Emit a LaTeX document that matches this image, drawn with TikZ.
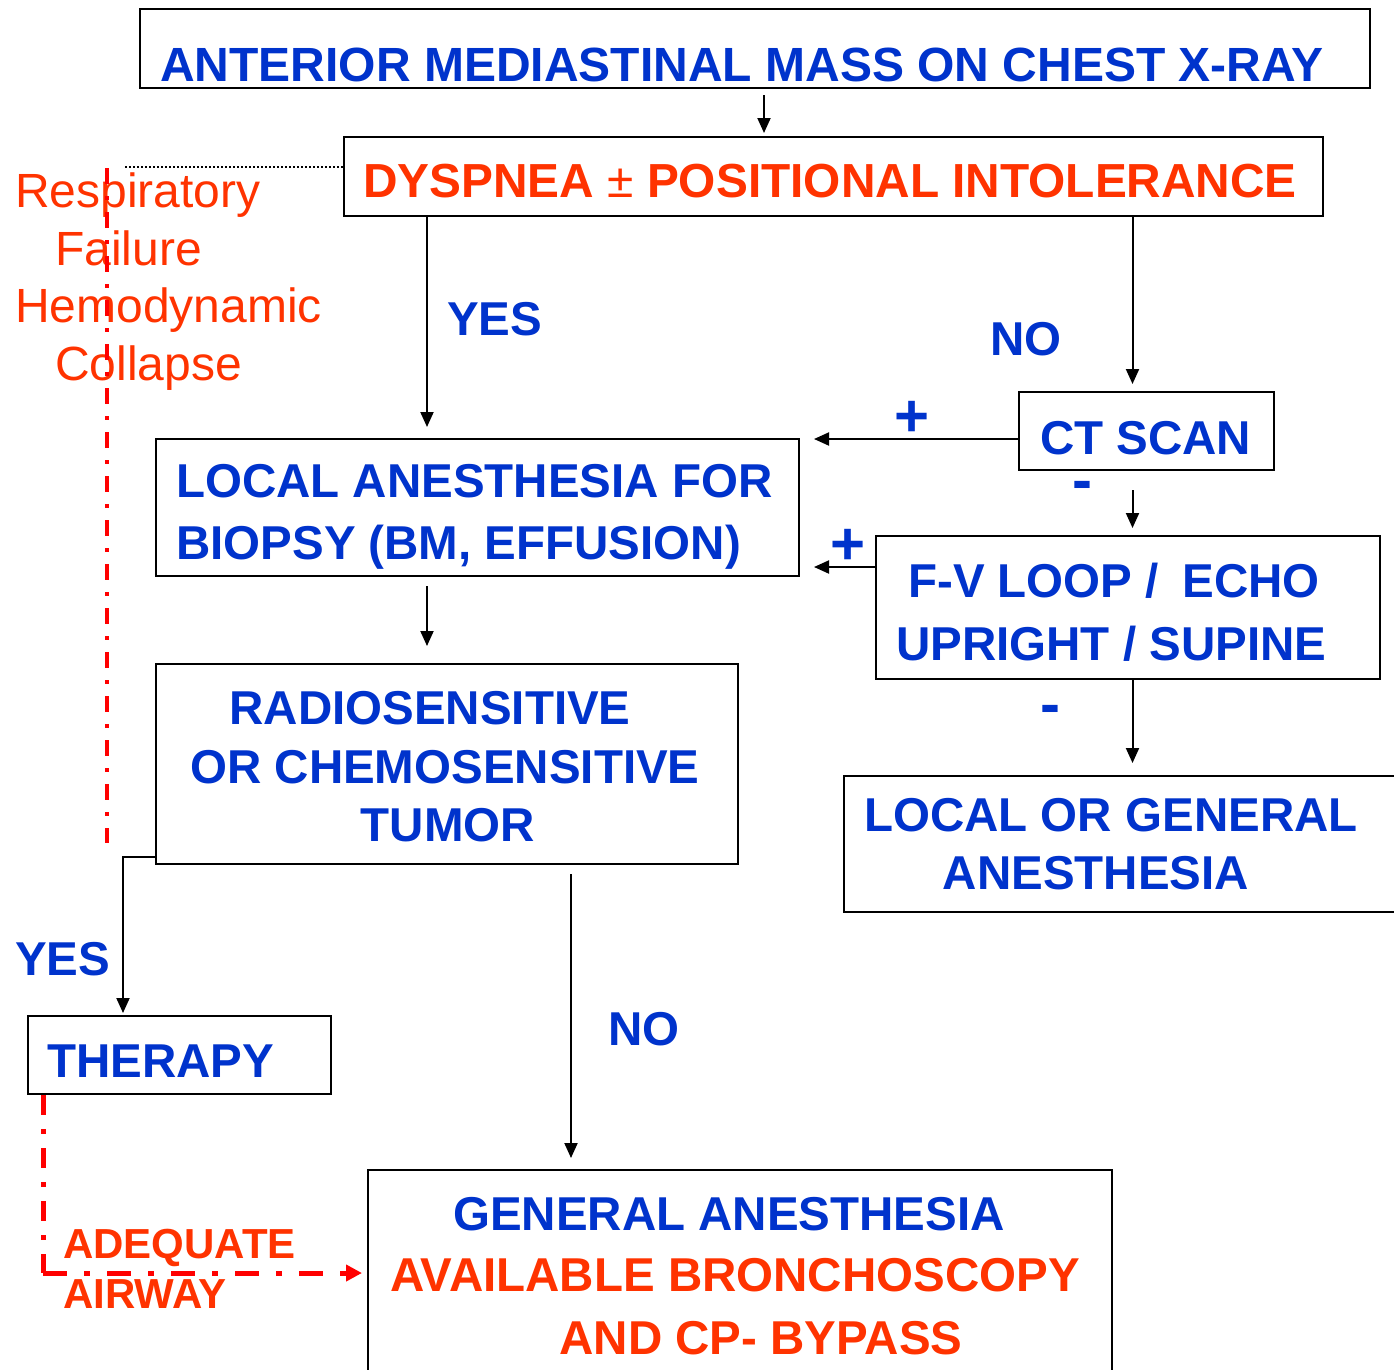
\documentclass[tikz,border=0pt]{standalone}
\usepackage{fontspec}
\setmainfont{Liberation Sans}
\usetikzlibrary{arrows.meta,calc}
\definecolor{tblue}{HTML}{0033CC}
\definecolor{tred}{HTML}{FF3300}
\definecolor{dred}{HTML}{FF0000}
\begin{document}
\begin{tikzpicture}[x=1pt,y=-1pt,
  box/.style={draw=black,line width=2pt,inner sep=0pt,anchor=north west},
  bt/.style={font=\fontsize{47.5}{56}\selectfont\bfseries,text=tblue,inner sep=0pt,anchor=base west},
  rt/.style={font=\fontsize{47.5}{56}\selectfont\bfseries,text=tred,inner sep=0pt,anchor=base west},
  lt/.style={font=\fontsize{48}{56}\selectfont,text=tred,inner sep=0pt,anchor=base west},
  airt/.style={font=\fontsize{42}{50}\selectfont\bfseries,text=tred,inner sep=0pt,anchor=base west},
  sgn/.style={font=\fontsize{60}{66}\selectfont\bfseries,text=tblue,inner sep=0pt,anchor=base},
  arr/.style={draw=black,line width=2pt,-{Triangle[length=15pt,width=13pt]}},
  ddot/.style={draw=dred,line width=4.5pt,dash pattern=on 16pt off 12pt on 4pt off 12pt},
  ddotb/.style={draw=dred,line width=5pt,dash pattern=on 24pt off 17pt on 6pt off 17pt},
  ddotv/.style={draw=dred,line width=5pt,dash pattern=on 20pt off 14pt on 5pt off 14pt}
]
\useasboundingbox[fill=white] (0,0) rectangle (1394,1369);
\clip (0,0) rectangle (1394,1369);

% boxes
\node[box,minimum width=1230pt,minimum height=79pt] (top) at (139,8) {};
\node[box,minimum width=979pt,minimum height=79pt] (dys) at (343,136) {};
\node[box,minimum width=643pt,minimum height=137pt] (loc) at (155,438) {};
\node[box,minimum width=255pt,minimum height=78pt] (ct) at (1018,391) {};
\node[box,minimum width=504pt,minimum height=143pt] (fv) at (875,535) {};
\node[box,minimum width=582pt,minimum height=200pt] (rad) at (155,663) {};
\node[box,minimum width=580pt,minimum height=136pt] (lg) at (843,775) {};
\node[box,minimum width=303pt,minimum height=78pt] (ther) at (27,1015) {};
\node[box,minimum width=744pt,minimum height=240pt] (ga) at (367,1169) {};

% texts
\node[bt,font=\fontsize{48}{56}\selectfont\bfseries] (t1) at (160,81) {ANTERIOR MEDIASTINAL MASS ON CHEST X-RAY};
\node[rt,font=\fontsize{47.8}{56}\selectfont\bfseries] (t2) at (363,197) {DYSPNEA \textmd{±} POSITIONAL INTOLERANCE};
\node[bt] (t3a) at (176,497) {LOCAL ANESTHESIA FOR};
\node[bt] (t3b) at (176,559) {BIOPSY (BM, EFFUSION)};
\node[bt] (t4) at (1040,454) {CT SCAN};
\node[bt] (t5a) at (908,597) {F-V LOOP /\hspace{0.5em}ECHO};
\node[bt] (t5b) at (896,660) {UPRIGHT / SUPINE};
\node[bt,anchor=base] (t6a) at (430,724) {RADIOSENSITIVE};
\node[bt,anchor=base] (t6b) at (445,783) {OR CHEMOSENSITIVE};
\node[bt,anchor=base] (t6c) at (448,841) {TUMOR};
\node[bt] (t7a) at (864,831) {LOCAL OR GENERAL};
\node[bt,anchor=base] (t7b) at (1096,889) {ANESTHESIA};
\node[bt] (t8) at (47,1077) {THERAPY};
\node[bt,anchor=base] (t9a) at (729,1230) {GENERAL ANESTHESIA};
\node[rt,anchor=base] (t9b) at (735,1291) {AVAILABLE BRONCHOSCOPY};
\node[rt,anchor=base] (t9c) at (761,1354) {AND CP- BYPASS};

% labels
\node[bt] (yes1) at (447,335) {YES};
\node[bt] (no1) at (990,355) {NO};
\node[sgn] (plus1) at (912,436) {+};
\node[sgn] (min1) at (1082,500) {-};
\node[sgn] (plus2) at (848,564) {+};
\node[sgn] (min2) at (1050,724) {-};
\node[bt] (yes2) at (15,975) {YES};
\node[bt] (no2) at (608,1045) {NO};
\node[airt] (adq) at (63,1258) {ADEQUATE};
\node[airt] (air) at (63,1308) {AIRWAY};

\node[lt] (r1) at (15,207) {Respiratory};
\node[lt] (r2) at (55,265) {Failure};
\node[lt] (r3) at (15,322) {Hemodynamic};
\node[lt] (r4) at (55,380) {Collapse};

% connectors (yshift in real pt: positive = up)
\draw[arr] ([xshift=9pt,yshift=-6pt]top.south) -- ([xshift=9pt,yshift=3pt]dys.north -| top.south);
\draw[arr] (dys.south -| yes1.west) ++(-20,0) coordinate (a1) -- ([yshift=11pt]a1 |- loc.north);
\draw[arr] (dys.south -| ct.north) ++(-14,0) coordinate (a2) -- ([yshift=7pt]a2 |- ct.north);
\draw[arr] ([yshift=-8pt]ct.west) coordinate (a6) -- ([xshift=14pt]loc.east |- a6);
\draw[arr] (ct.south -| a2) ++(0,19) -- ([yshift=7pt]a2 |- fv.north);
\draw[arr] (fv.west |- 0,567) coordinate (a3) -- ([xshift=14pt]loc.east |- a3);
\draw[arr] (fv.south -| a2) -- ([yshift=12pt]a2 |- lg.north);
\draw[arr] ([yshift=-9pt]loc.south -| a1) -- ([yshift=17pt]a1 |- rad.north);
\draw[arr] ([yshift=8pt]rad.south west) -- ++(-32,0) coordinate (a4) -- ([yshift=2pt]a4 |- ther.north);
\draw[arr] ([yshift=-9pt]rad.south -| no2.west) ++(-37,0) coordinate (a5) -- ([yshift=11pt]a5 |- ga.north);

\draw[draw=black,line width=1.3pt,dash pattern=on 2pt off 2pt] (125,167) coordinate (d1) -- (dys.west |- d1);
\draw[ddot] (107,168) coordinate (v1) -- (107,843) coordinate (v2);
\draw[ddotv] ([xshift=16pt]ther.south west) -- ++(0,178) coordinate (c1);
\draw[ddotb,-{Triangle[length=16pt,width=16pt]}] (c1) -- ([xshift=-5pt]ga.west |- c1);
\end{tikzpicture}
\end{document}
